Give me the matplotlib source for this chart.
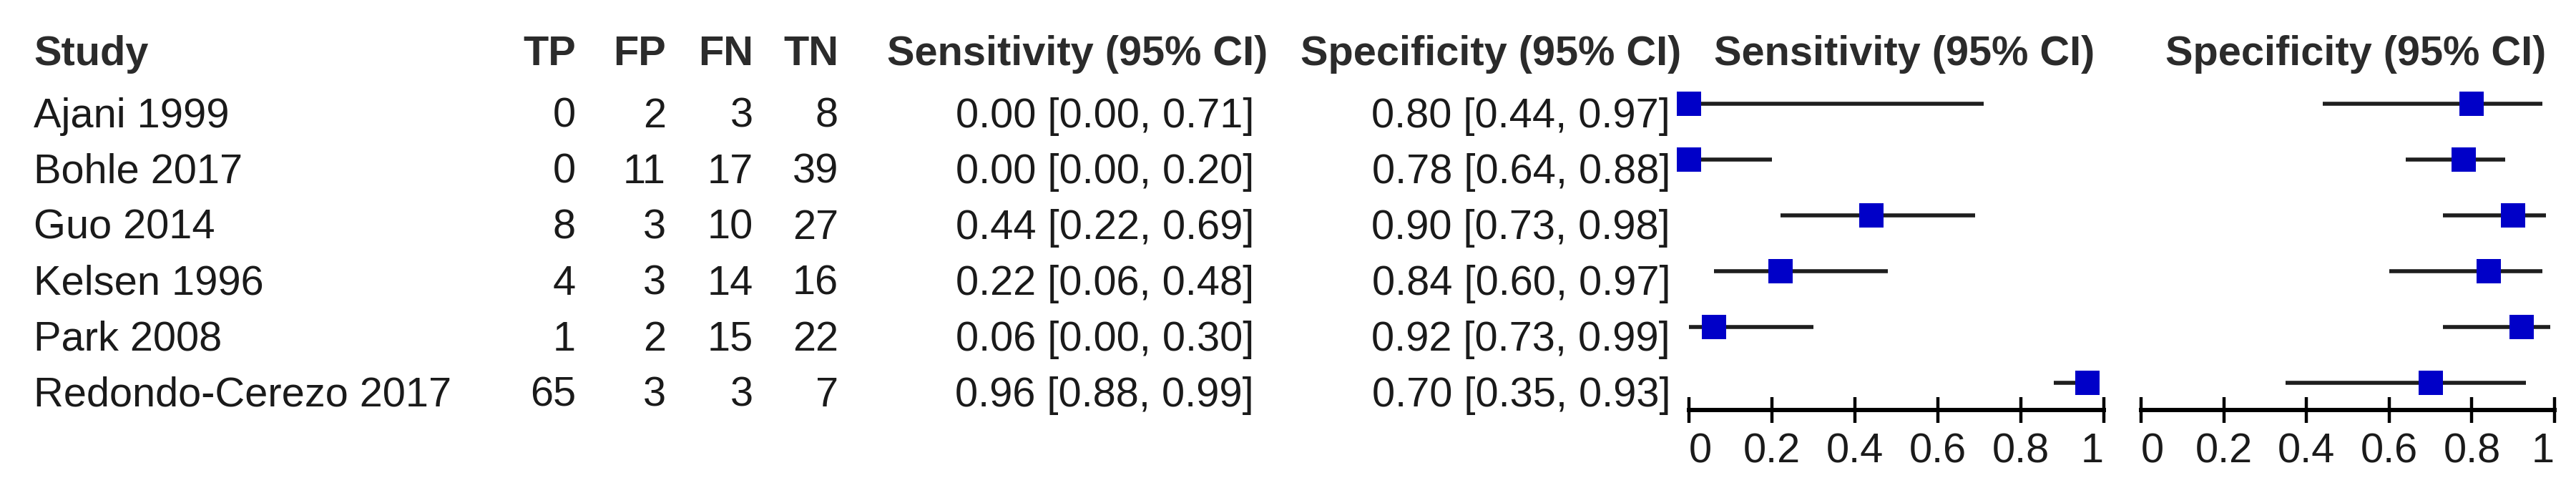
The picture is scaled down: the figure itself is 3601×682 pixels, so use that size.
import matplotlib
matplotlib.use("Agg")
import matplotlib.pyplot as plt

# ---------------- data ----------------
studies = ["Ajani 1999", "Bohle 2017", "Guo 2014", "Kelsen 1996", "Park 2008",
           "Redondo-Cerezo 2017"]
tp = [0, 0, 8, 4, 1, 65]
fp = [2, 11, 3, 3, 2, 3]
fn = [3, 17, 10, 14, 15, 3]
tn = [8, 39, 27, 16, 22, 7]
sens = [0.00, 0.00, 0.44, 0.22, 0.06, 0.96]
sens_lo = [0.00, 0.00, 0.22, 0.06, 0.00, 0.88]
sens_hi = [0.71, 0.20, 0.69, 0.48, 0.30, 0.99]
spec = [0.80, 0.78, 0.90, 0.84, 0.92, 0.70]
spec_lo = [0.44, 0.64, 0.73, 0.60, 0.73, 0.35]
spec_hi = [0.97, 0.88, 0.98, 0.97, 0.99, 0.93]
tick_vals = [0, 0.2, 0.4, 0.6, 0.8, 1]
tick_labels = ["0", "0.2", "0.4", "0.6", "0.8", "1"]

# ---------------- layout ----------------
W, H, DPI = 3601, 682, 100
plt.rcParams['font.family'] = ['Liberation Sans', 'DejaVu Sans']
FS = 41.6          # points (~58 px)
BODY = '#1a1a1a'
HEAD = '#2b2b2b'
MARK = '#0000c8'

fig = plt.figure(figsize=(W / DPI, H / DPI), dpi=DPI)
fig.patch.set_facecolor('white')

def ftext(x, y, s, ha='left', bold=False, color=BODY):
    fig.text(x / W, 1 - y / H, s, ha=ha, va='baseline', fontsize=FS,
             fontweight='bold' if bold else 'normal', color=color)

row0, drow = 145, 78          # pixel centre of first row, row spacing
head_base = 91
text_off = 32.5               # baseline offset below row centre

# headers
ftext(47, head_base, "Study", bold=True, color=HEAD)
col_right = [805, 931, 1053, 1172]
for x, h in zip(col_right, ["TP", "FP", "FN", "TN"]):
    ftext(x, head_base, h, ha='right', bold=True, color=HEAD)
ftext(1506, head_base, "Sensitivity (95% CI)", ha='center', bold=True, color=HEAD)
ftext(2084, head_base, "Specificity (95% CI)", ha='center', bold=True, color=HEAD)
ftext(2662, head_base, "Sensitivity (95% CI)", ha='center', bold=True, color=HEAD)
ftext(3293, head_base, "Specificity (95% CI)", ha='center', bold=True, color=HEAD)

# table rows
for i, name in enumerate(studies):
    yb = row0 + drow * i + text_off
    ftext(47, yb, name)
    for x, arr in zip(col_right, [tp, fp, fn, tn]):
        ftext(x, yb, str(arr[i]), ha='right')
    ftext(1753, yb, f"{sens[i]:.2f} [{sens_lo[i]:.2f}, {sens_hi[i]:.2f}]", ha='right')
    ftext(2335, yb, f"{spec[i]:.2f} [{spec_lo[i]:.2f}, {spec_hi[i]:.2f}]", ha='right')

# forest plot axes
axis_y = 573
top_y = 83
r_bottom = (axis_y - row0) / drow
r_top = (top_y - row0) / drow
CI_LW = 4.0     # ~5.5 px
AX_LW = 4.3     # ~6 px
TK_LW = 3.2

def forest(x0, x1, est, lo, hi):
    ax = fig.add_axes([x0 / W, (H - axis_y) / H, (x1 - x0) / W, (axis_y - top_y) / H])
    ax.set_facecolor('none')
    rows = list(range(len(est)))
    ax.hlines(rows, lo, hi, colors='#1e1e1e', linewidth=CI_LW, zorder=2, clip_on=False)
    ax.plot(est, rows, linestyle='none', marker='s', markersize=23.8,
            markerfacecolor=MARK, markeredgewidth=0, zorder=3, clip_on=False)
    ax.set_xlim(0, 1)
    ax.set_ylim(r_bottom, r_top)
    for s in ['left', 'right', 'top']:
        ax.spines[s].set_visible(False)
    ax.spines['bottom'].set_linewidth(AX_LW)
    ax.spines['bottom'].set_color('black')
    ax.set_yticks([])
    ax.set_xticks(tick_vals)
    ax.set_xticklabels(tick_labels)
    ax.tick_params(axis='x', direction='inout', length=26, width=TK_LW,
                   pad=9.4, labelsize=FS, colors='black', labelcolor=BODY)
    labs = ax.get_xticklabels()
    labs[0].set_horizontalalignment('left')
    labs[-1].set_horizontalalignment('right')
    return ax

forest(2361, 2941, sens, sens_lo, sens_hi)
forest(2993, 3571, spec, spec_lo, spec_hi)

fig.savefig("out.png", dpi=DPI, facecolor='white')
